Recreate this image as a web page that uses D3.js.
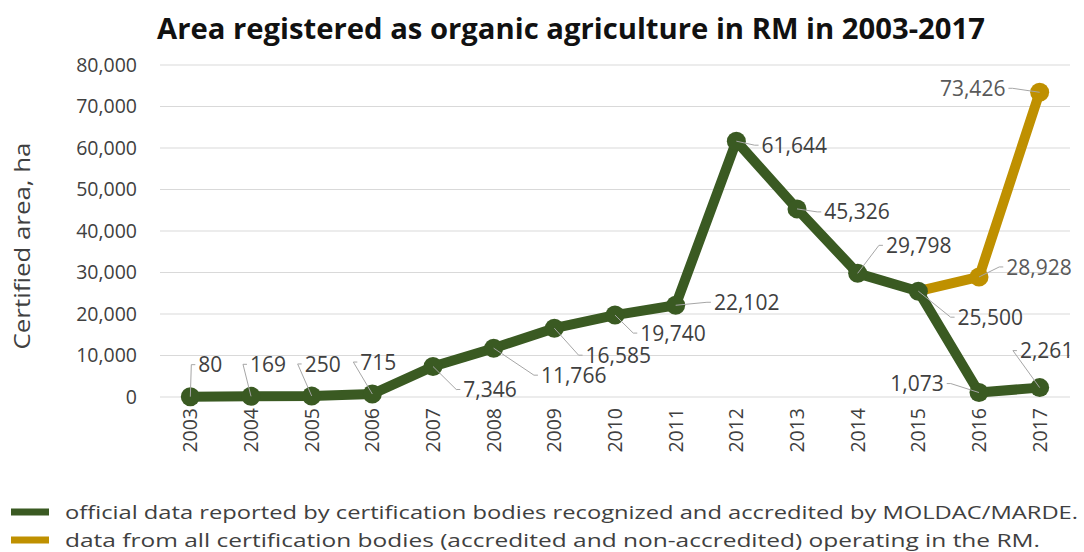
<!DOCTYPE html>
<html>
<head>
<meta charset="utf-8">
<script src="https://cdn.jsdelivr.net/npm/d3@7"></script>
<style>
  html, body { margin: 0; padding: 0; background: #fff; }
  svg { display: block; }
  text { font-family: "Open Sans", "Noto Sans", sans-serif; }
</style>
</head>
<body>
<svg id="chart" width="1084" height="552"></svg>
<script>
// Certified organic area in the Republic of Moldova, hectares
const years = ["2003","2004","2005","2006","2007","2008","2009","2010","2011","2012","2013","2014","2015","2016","2017"];
const officialArea = [80, 169, 250, 715, 7346, 11766, 16585, 19740, 22102, 61644, 45326, 29798, 25500, 1073, 2261];
const allBodiesArea = [null, null, null, null, null, null, null, null, null, null, null, null, 25500, 28928, 73426];
const yTicks = [0, 10000, 20000, 30000, 40000, 50000, 60000, 70000, 80000];

// label placement (offset of each value label centre from its point, px)
const officialLabelOffset = [[20,-32],[17,-32],[11,-32],[6,-32],[57,23],[80,27],[64,27],[58,18],[71,-3],[58,4],[60,3],[61,-28],[72,26],[-62,-9],[7,-37]];
const allBodiesLabelOffset = {13: [60,-10], 14: [-67,-4]};

const legendItems = [
  {text: "official data reported by certification bodies recognized and accredited by MOLDAC/MARDE.", color: "#3a5a22", len: 1013},
  {text: "data from all certification bodies (accredited and non-accredited) operating in the RM.", color: "#bf9000", len: 975}
];

const green = "#3a5a22", gold = "#bf9000";
const svg = d3.select("#chart");

const x = d3.scaleBand().domain(years).range([160, 1070]);
const y = d3.scaleLinear().domain([0, 80000]).range([397, 65]);
const cx = d => x(d) + x.bandwidth() / 2;
const fmt = d3.format(",");

// title
svg.append("text")
  .attr("x", 157).attr("y", 39)
  .attr("font-size", 28).attr("font-weight", "bold").attr("fill", "#111")
  .attr("textLength", 828).attr("lengthAdjust", "spacingAndGlyphs")
  .text("Area registered as organic agriculture in RM in 2003-2017");

// gridlines
svg.append("g").selectAll("line").data(yTicks).join("line")
  .attr("x1", 160).attr("x2", 1070)
  .attr("y1", d => y(d)).attr("y2", d => y(d))
  .attr("stroke", "#d9d9d9").attr("stroke-width", 1.2);

// y axis labels
const yAxis = svg.append("g")
  .attr("transform", "translate(147,0)")
  .call(d3.axisLeft(y).tickValues(yTicks).tickFormat(fmt).tickSize(0).tickPadding(10));
yAxis.select(".domain").remove();
yAxis.selectAll("text")
  .attr("font-size", 19.5).attr("fill", "#404040")
  .style("font-family", "'Open Sans', sans-serif");

// y axis title
svg.append("text")
  .attr("transform", "translate(30,246) rotate(-90)")
  .attr("text-anchor", "middle")
  .attr("font-size", 22).attr("fill", "#404040")
  .attr("textLength", 207).attr("lengthAdjust", "spacingAndGlyphs")
  .text("Certified area, ha");

// x axis labels (vertical)
const xAxis = svg.append("g")
  .attr("transform", "translate(0,397)")
  .call(d3.axisBottom(x).tickSize(0).tickPadding(0));
xAxis.select(".domain").remove();
xAxis.selectAll("text")
  .attr("transform", "rotate(-90)")
  .attr("x", -11).attr("y", 0).attr("dy", "0.36em")
  .attr("text-anchor", "end")
  .attr("font-size", 19.5).attr("fill", "#404040")
  .style("font-family", "'Open Sans', sans-serif");

// lines
const line = d3.line()
  .defined(d => d.v != null)
  .x(d => cx(d.year)).y(d => y(d.v));

const goldData = years.map((yr, i) => ({year: yr, v: allBodiesArea[i], i}));
const greenData = years.map((yr, i) => ({year: yr, v: officialArea[i], i}));

svg.append("path").datum(goldData)
  .attr("d", line).attr("fill", "none")
  .attr("stroke", gold).attr("stroke-width", 10).attr("stroke-linejoin", "round");
svg.append("g").selectAll("circle").data(goldData.filter(d => d.v != null && d.i > 12)).join("circle")
  .attr("cx", d => cx(d.year)).attr("cy", d => y(d.v)).attr("r", 9.5).attr("fill", gold);

svg.append("path").datum(greenData)
  .attr("d", line).attr("fill", "none")
  .attr("stroke", green).attr("stroke-width", 10).attr("stroke-linejoin", "round");
svg.append("g").selectAll("circle").data(greenData).join("circle")
  .attr("cx", d => cx(d.year)).attr("cy", d => y(d.v)).attr("r", 9.5).attr("fill", green);

// value labels, with a thin leader line when the label sits away from its point
function drawLabels(data, offsets, color) {
  const leaders = svg.append("g");
  const texts = svg.append("g");
  data.forEach(d => {
    const off = offsets[d.i];
    if (!off || d.v == null) return;
    const px = cx(d.year), py = y(d.v);
    const lx = px + off[0], ly = py + off[1];
    const t = texts.append("text")
      .attr("x", lx).attr("y", ly).attr("dy", "0.36em")
      .attr("text-anchor", "middle")
      .attr("font-size", 21).attr("fill", color)
      .text(fmt(d.v));
    const half = t.node().getComputedTextLength() / 2;
    const right = off[0] >= 0;
    const ex = right ? lx - half - 3 : lx + half + 3;
    const gap = Math.hypot(ex - px, ly - py);
    if (gap > 22) {
      leaders.append("polyline")
        .attr("points", `${px},${py} ${ex - (right ? 4 : -4)},${ly} ${ex},${ly}`)
        .attr("fill", "none").attr("stroke", "#a6a6a6").attr("stroke-width", 1);
    }
  });
}
drawLabels(greenData, officialLabelOffset, "#404040");
drawLabels(goldData, allBodiesLabelOffset, "#595959");

// legend
const legend = svg.append("g");
legendItems.forEach((item, k) => {
  const ly = 512 + k * 28;
  legend.append("line")
    .attr("x1", 11).attr("x2", 49).attr("y1", ly).attr("y2", ly)
    .attr("stroke", item.color).attr("stroke-width", 7);
  legend.append("text")
    .attr("x", 65).attr("y", ly).attr("dy", "0.36em")
    .attr("font-size", 19).attr("fill", "#404040")
    .attr("textLength", item.len).attr("lengthAdjust", "spacingAndGlyphs")
    .text(item.text);
});
</script>
</body>
</html>
